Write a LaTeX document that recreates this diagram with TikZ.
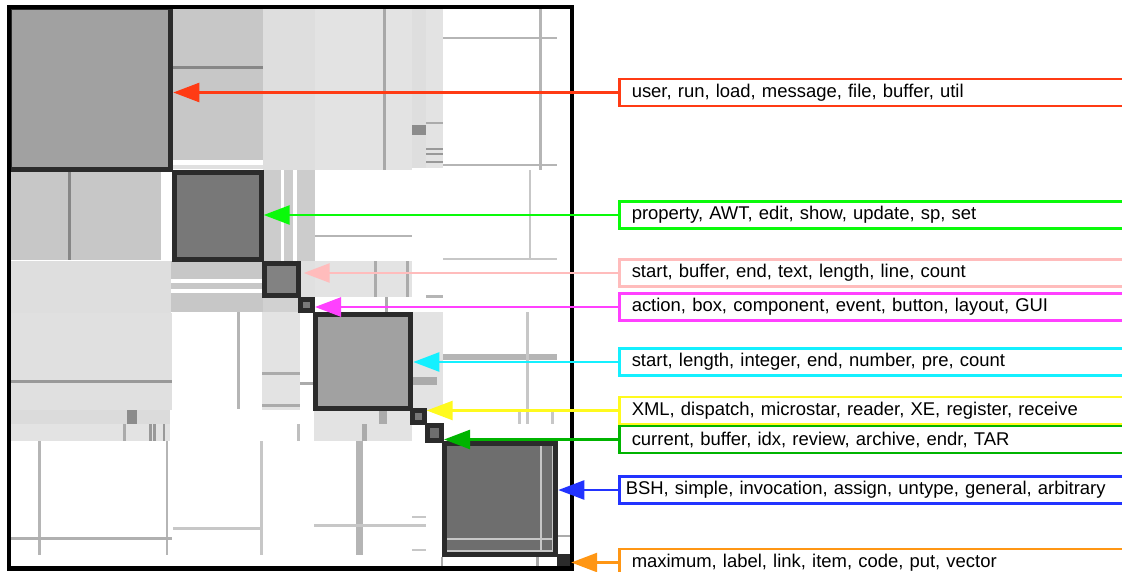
\documentclass[tikz,border=0pt]{standalone}
\usepackage{fontspec}
\setmainfont{Liberation Sans}
\usetikzlibrary{arrows.meta}
\definecolor{cRed}{RGB}{255,59,20}
\definecolor{cGreen}{RGB}{10,250,10}
\definecolor{cPink}{RGB}{255,188,188}
\definecolor{cMag}{RGB}{255,64,255}
\definecolor{cCyan}{RGB}{20,240,255}
\definecolor{cYellow}{RGB}{255,250,30}
\definecolor{cDGreen}{RGB}{0,180,0}
\definecolor{cBlue}{RGB}{34,51,255}
\definecolor{cOrange}{RGB}{255,150,20}
\definecolor{blkc}{RGB}{43,43,43}
\begin{document}
\begin{tikzpicture}[x=1pt,y=-1pt,
  blk/.style={draw=blkc, line width=5pt, inner sep=0pt, rectangle},
  lbl/.style={line width=2.5pt, anchor=west, minimum height=27pt, inner xsep=12.5pt,
    text width=495pt, align=left, fill=white, font=\fontsize{18.45}{22}\selectfont},
  arr/.style={line width=2.5pt, -{Triangle[length=26pt,width=19pt]}},
]
\useasboundingbox (0,0) rectangle (1122,572);
\clip (0,0) rectangle (1122,572);
\fill[white] (0,0) rectangle (1122,572);

% ---------- background of the matrix ----------
% band 1
\fill[black!22] (171,7) rectangle (263,160);
\fill[black!47] (171,66) rectangle (263,69);
\fill[black!12] (171,165) rectangle (263,169);
\fill[black!13] (263,7) rectangle (315,170);
\fill[black!11] (315,7) rectangle (412,170);
\fill[black!34] (382.5,7) rectangle (385.5,170);
\fill[black!13] (412,7) rectangle (426,168);
\fill[black!11] (426,7) rectangle (443,168);
\fill[black!33] (426,122) rectangle (443,124);
\fill[black!45] (412,125) rectangle (426,135);
\fill[black!40] (426,148) rectangle (443,150);
\fill[black!40] (426,153) rectangle (443,155);
\fill[black!40] (426,161) rectangle (443,163);
\fill[black!29] (443,37) rectangle (557,39.5);
\fill[black!29] (443,164) rectangle (557,166.5);
\fill[black!29] (538.5,7) rectangle (541.5,170);
% band 2
\fill[black!22] (11,171) rectangle (161,260);
\fill[black!47] (68,171) rectangle (71,260);
\fill[black!20] (263,170) rectangle (315,261);
\fill[white] (281,170) rectangle (284,261);
\fill[white] (293,170) rectangle (297,261);
\fill[black!29] (315,235) rectangle (412,237.5);
\fill[black!22] (528.5,170) rectangle (531,259);
\fill[black!22] (443,258) rectangle (557,260.5);
% band 3/4
\fill[black!13] (11,261) rectangle (171,313);
\fill[black!22] (171,261) rectangle (263,279);
\fill[black!22] (171,283) rectangle (263,289);
\fill[black!22] (171,293) rectangle (263,312);
\fill[black!18] (263,296) rectangle (300,312);
\fill[black!12] (298,261) rectangle (315,297);
\fill[black!11] (315,261) rectangle (412,297);
\fill[black!33] (373.5,261) rectangle (376.5,297);
\fill[black!33] (406,261) rectangle (409,297);
\fill[black!29] (426,295) rectangle (443,297.5);
\fill[black!33] (385,297) rectangle (387.5,312);
% band 5
\fill[black!12] (11,313) rectangle (172,410);
\fill[black!40] (11,379.5) rectangle (172,382.5);
\fill[black!29] (237,312) rectangle (240,409);
\fill[black!11] (262,312) rectangle (300,410);
\fill[black!33] (262,372) rectangle (300,375);
\fill[black!33] (262,404) rectangle (300,407);
\fill[black!33] (300,382) rectangle (313,384.5);
\fill[black!11] (412,312) rectangle (443,410);
\fill[black!33] (412,377) rectangle (437,385);
\fill[black!29] (443,354) rectangle (557,360);
\fill[black!22] (526,312) rectangle (529,424);
% band 6/7
\fill[black!14] (11,410) rectangle (170,424);
\fill[black!11] (11,424) rectangle (170,441);
\fill[black!45] (127,410) rectangle (137,424);
\fill[black!33] (123,424) rectangle (126,441);
\fill[black!40] (149,424) rectangle (152,441);
\fill[black!40] (153,424) rectangle (156,441);
\fill[black!40] (162.5,424) rectangle (165,441);
\fill[black!11] (314,410) rectangle (412,441);
\fill[black!33] (379,410) rectangle (387,424);
\fill[black!33] (362,424) rectangle (367,441);
\fill[black!25] (297,424) rectangle (299.5,441);
\fill[black!22] (518,410) rectangle (520.5,424);
\fill[black!22] (551,410) rectangle (553.5,424);
% band 8/9
\fill[black!29] (38,441) rectangle (41,555);
\fill[black!29] (165.5,441) rectangle (168,555);
\fill[black!31] (11,536.5) rectangle (172,540);
\fill[black!22] (173,527) rectangle (261,530);
\fill[black!22] (260,441) rectangle (263,555);
\fill[black!29] (356,441) rectangle (363,555);
\fill[black!22] (314,524) rectangle (426,527);
\fill[black!22] (412,515.5) rectangle (426,518);
\fill[black!22] (412,548.5) rectangle (426,551);
\fill[black!33] (557,534.5) rectangle (570,537);
\fill[black!33] (440.5,557) rectangle (443,567);
\fill[black!33] (536,557) rectangle (538.5,567);

% ---------- diagonal blocks ----------
\node[blk, fill=black!37, minimum width=161.3pt, minimum height=161.7pt] (b1) at (90.15,88.35) {};
\node[blk, fill=black!53, minimum width=87pt, minimum height=86.7pt] (b2) at (217.7,215.85) {};
\node[blk, fill=black!49, minimum width=34.2pt, minimum height=32.5pt] (b3) at (281.1,279.55) {};
\node[blk, fill=black!52, minimum width=11.7pt, minimum height=11.6pt] (b4) at (306.65,305) {};
\node[blk, fill=black!37, minimum width=95pt, minimum height=94pt] (b5) at (363.3,361.2) {};
\node[blk, fill=black!53, minimum width=11.7pt, minimum height=11.7pt] (b6) at (418.35,416.65) {};
\node[blk, fill=black!57, minimum width=14pt, minimum height=15pt] (b7) at (434.5,432.7) {};
\node[blk, fill=black!57, minimum width=111pt, minimum height=110.7pt] (b8) at (500.3,498.85) {};
\node[draw=none, fill=blkc, inner sep=0pt, minimum width=14pt, minimum height=15pt] (b9) at (564,561.5) {};
% light lines inside block 8
\fill[black!22] (539.5,446) rectangle (541.5,552);
\fill[black!22] (551.7,446) rectangle (553.3,552);
\fill[black!22] (447,537.5) rectangle (553,539.5);
\fill[black!22] (447,549.5) rectangle (553,551.5);

% outer frame
\node[draw=black, line width=4.3pt, inner sep=0pt, minimum width=562.9pt, minimum height=561.4pt] (frame) at (290.35,287.9) {};

% ---------- labels ----------
\node[lbl, draw=cRed] (l1) at (618,92.5) {user, run, load, message, file, buffer, util};
\node[lbl, draw=cGreen] (l2) at (618,215) {property, AWT, edit, show, update, sp, set};
\node[lbl, draw=cPink] (l3) at (618,273) {start, buffer, end, text, length, line, count};
\node[lbl, draw=cMag] (l4) at (618,307) {action, box, component, event, button, layout, GUI};
\node[lbl, draw=cCyan] (l5) at (618,362) {start, length, integer, end, number, pre, count};
\node[lbl, draw=cYellow] (l6) at (618,410.5) {XML, dispatch, microstar, reader, XE, register, receive};
\node[lbl, draw=cDGreen] (l7) at (618,439.5) {current, buffer, idx, review, archive, endr, TAR};
\node[lbl, draw=cBlue, inner xsep=6.5pt, text width=507pt] (l8) at (618,490) {BSH, simple, invocation, assign, untype, general, arbitrary};
\node[lbl, draw=cOrange] (l9) at (618,562.5) {maximum, label, link, item, code, put, vector};

% ---------- arrows ----------
\draw[arr, draw=cRed] (l1.west) -- (l1.west -| b1.east);
\draw[arr, draw=cGreen] (l2.west) -- (l2.west -| b2.east);
\draw[arr, draw=cPink, shorten >=3pt] (l3.west) -- (l3.west -| b3.east);
\draw[arr, draw=cMag] (l4.west) -- (l4.west -| b4.east);
\draw[arr, draw=cCyan] (l5.west) -- (l5.west -| b5.east);
\draw[arr, draw=cYellow] (l6.west) -- (l6.west -| b6.east);
\draw[arr, draw=cDGreen] (l7.west) -- (l7.west -| b7.east);
\draw[arr, draw=cBlue] (l8.west) -- (l8.west -| b8.east);
\draw[arr, draw=cOrange] (l9.west) -- (l9.west -| b9.east);
\end{tikzpicture}
\end{document}
